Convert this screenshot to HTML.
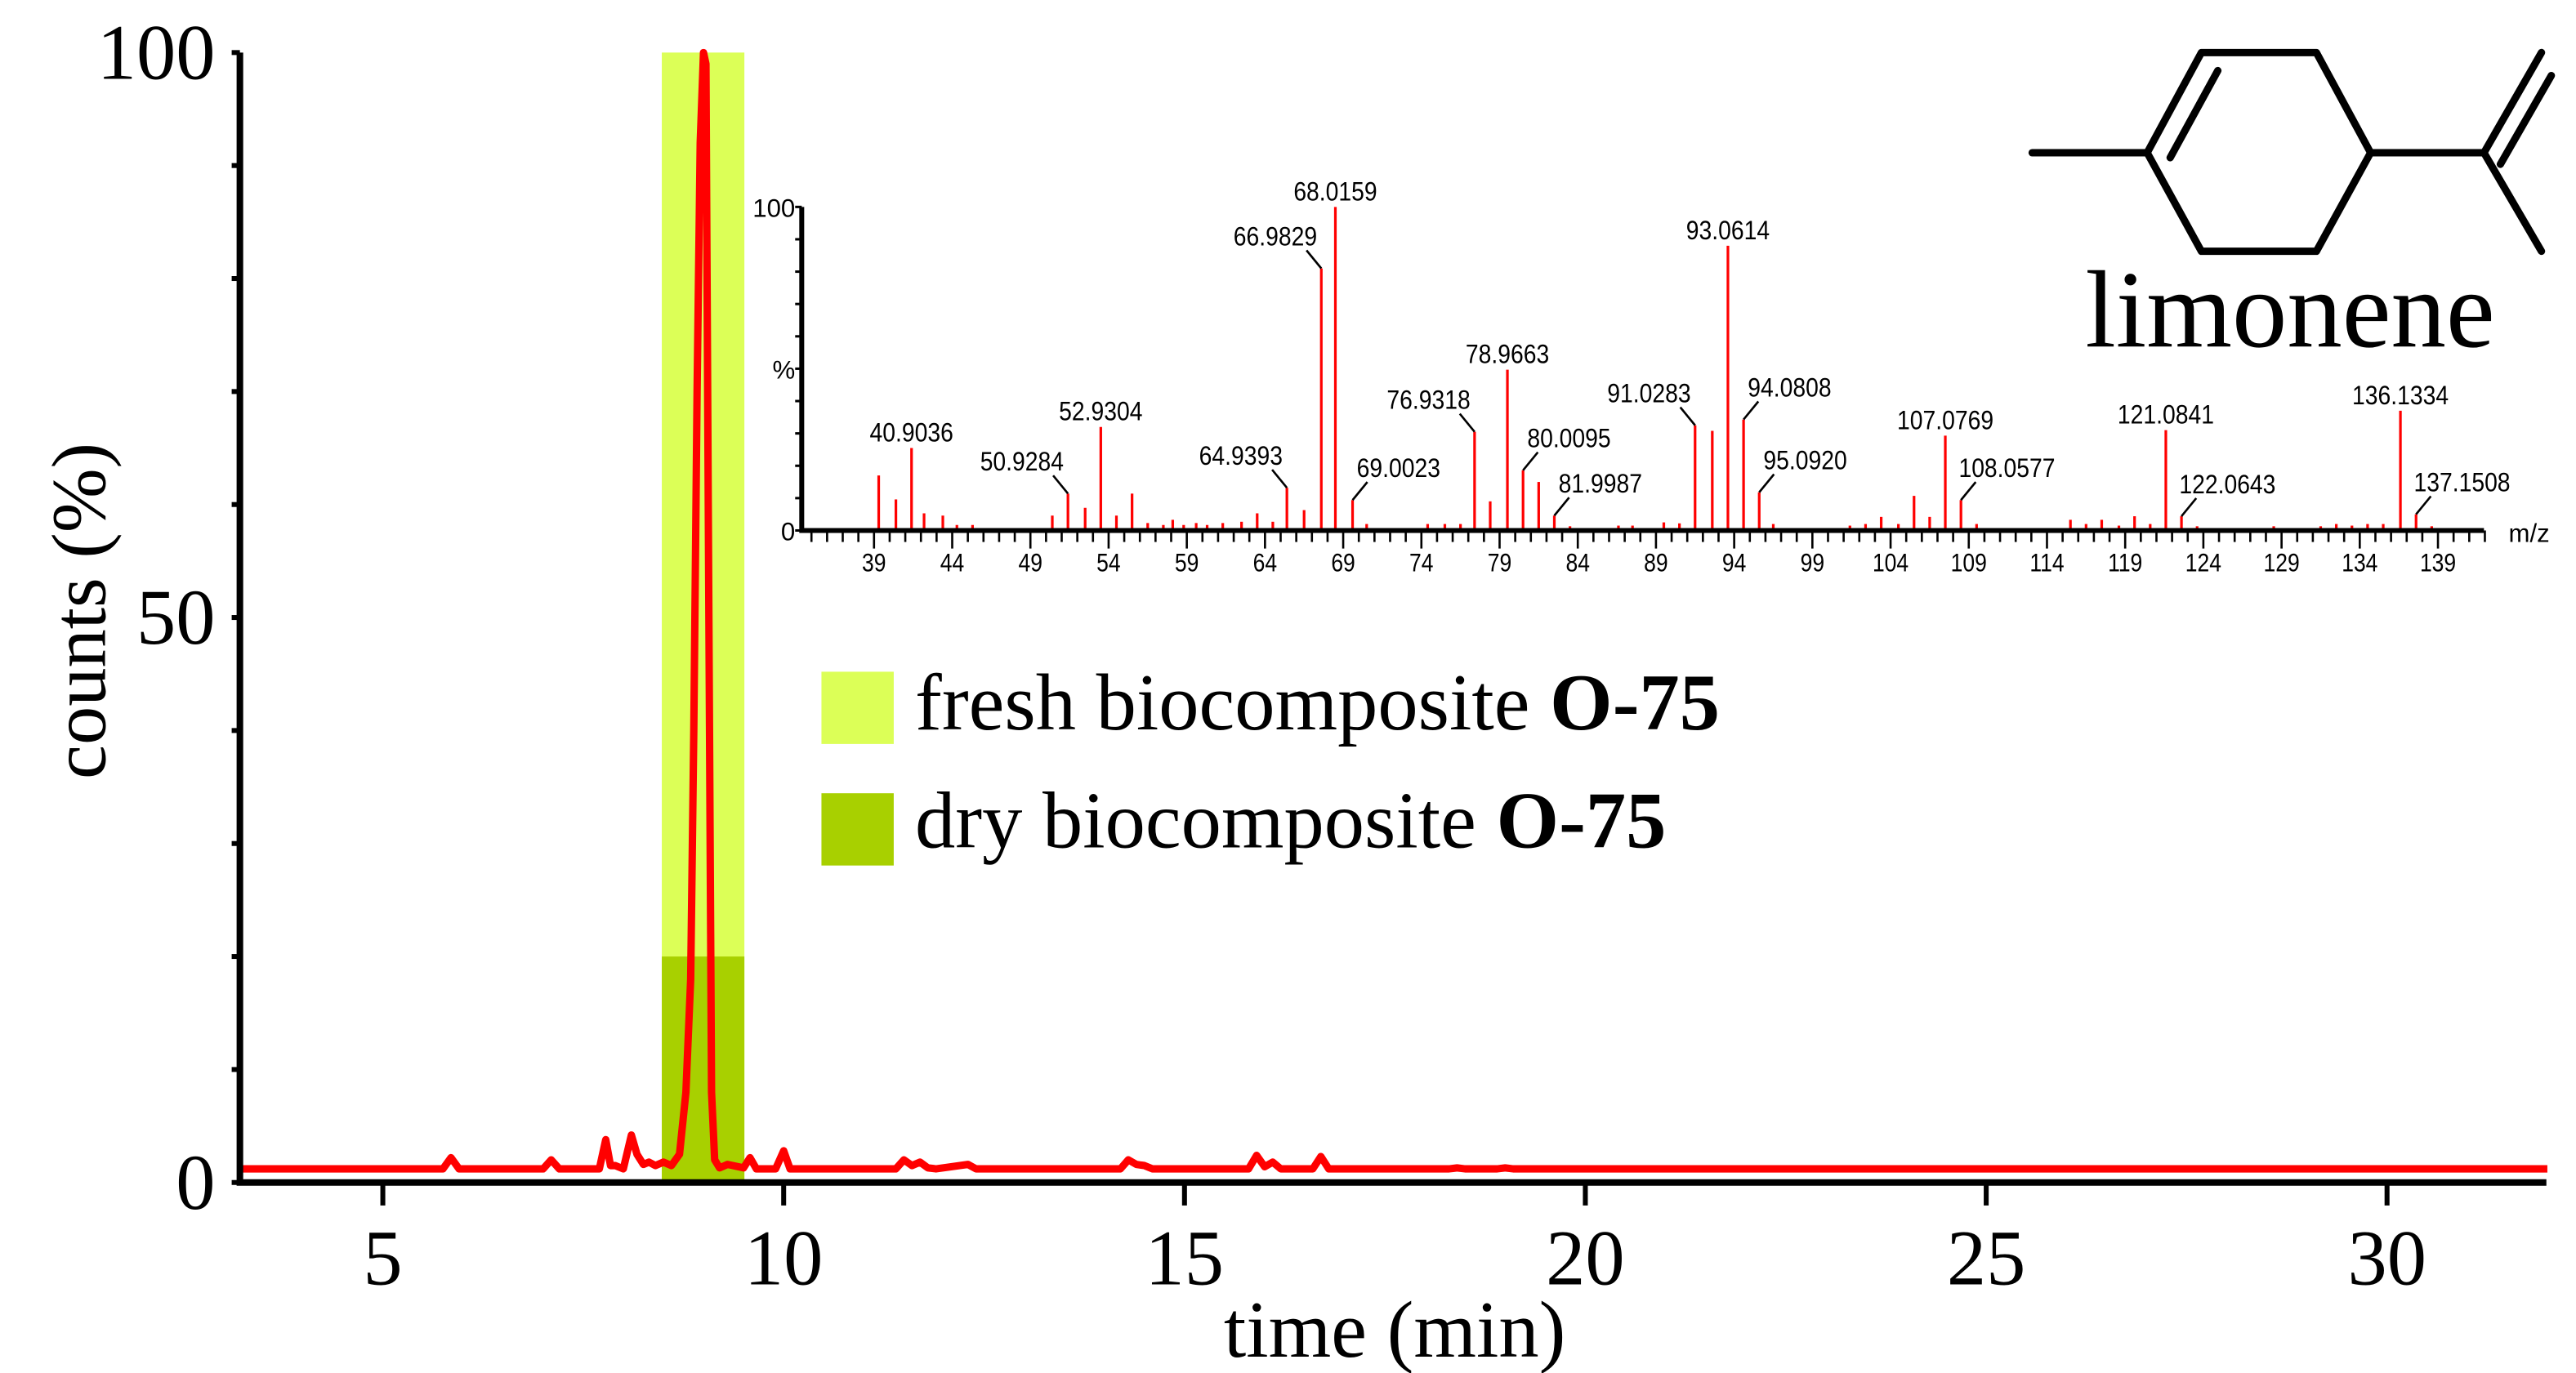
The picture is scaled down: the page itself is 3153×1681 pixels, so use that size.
<!DOCTYPE html>
<html><head><meta charset="utf-8">
<style>
html,body{margin:0;padding:0;background:#fff;}
svg{display:block;}
.serif{font-family:"Liberation Serif",serif;}
.sans{font-family:"Liberation Sans",sans-serif;}
</style></head>
<body>
<svg id="chart" width="3153" height="1681" viewBox="0 0 1568 836" xmlns="http://www.w3.org/2000/svg">
<rect x="0" y="0" width="1568" height="836" fill="#fff"/>
<g id="highlights"></g>
<g id="main"></g>
<g id="inset"></g>
<g id="legend">
  <rect x="500" y="409" width="44" height="44" fill="#dcff57"/>
  <text class="serif" x="557" y="444" font-size="49">fresh biocomposite <tspan font-weight="bold">O-75</tspan></text>
  <rect x="500" y="483" width="44" height="44" fill="#a8d000"/>
  <text class="serif" x="557" y="516" font-size="49">dry biocomposite <tspan font-weight="bold">O-75</tspan></text>
</g>
<g id="molecule" stroke="#000" stroke-width="4.5" fill="none" stroke-linecap="round" stroke-linejoin="round">
  <path d="M1307,93 L1340,32 L1410,32 L1443,93 L1410,153 L1340,153 Z"/>
  <path d="M1237,93 L1307,93"/>
  <path d="M1321,96 L1350,43"/>
  <path d="M1443,93 L1512,93 L1547,32"/>
  <path d="M1512,93 L1547,153"/>
  <path d="M1522,100 L1553,46"/>
</g>
<text class="serif" x="1394" y="211" font-size="67" text-anchor="middle">limonene</text>
</svg>
<script>
// ---------- Main chromatogram data ----------
const chromTimes = [3.25,5.75,5.85,5.95,7.0,7.1,7.2,7.7,7.78,7.84,7.9,8.0,8.1,8.17,8.25,8.32,8.4,8.5,8.6,8.7,8.78,8.84,8.88,8.92,8.96,9.0,9.03,9.06,9.1,9.14,9.2,9.3,9.5,9.58,9.66,9.9,10.0,10.08,11.4,11.5,11.6,11.7,11.8,11.9,12.3,12.4,14.2,14.3,14.4,14.5,14.6,15.8,15.9,16.0,16.1,16.2,16.6,16.7,16.8,18.3,18.4,18.5,18.9,19.0,19.1,32.0];
const chromValues = [1.2,1.2,2.2,1.2,1.2,2.0,1.2,1.2,3.8,1.5,1.5,1.2,4.2,2.5,1.6,1.8,1.5,1.8,1.5,2.5,8,18,40,70,92,100,99,60,8,2.0,1.3,1.6,1.3,2.2,1.2,1.2,2.8,1.2,1.2,2.0,1.5,1.8,1.3,1.2,1.6,1.2,1.2,2.0,1.6,1.5,1.2,1.2,2.4,1.4,1.8,1.2,1.2,2.3,1.2,1.2,1.3,1.2,1.2,1.3,1.2,1.2];
const xTicks = [5,10,15,20,25,30];
const yTickLabels = [0,50,100];
const yMinorTicks = [0,10,20,30,40,50,60,70,80,90,100];
const freshBand = [8.48,9.51,100];
const dryBand = [8.48,9.51,20];

// ---------- Inset spectrum data ----------
const msMz = [39.3,40.4,41.4,42.2,43.4,44.3,45.3,50.4,51.4,52.5,53.5,54.5,55.5,56.5,57.5,58.1,58.8,59.6,60.3,61.3,62.5,63.5,64.5,65.4,66.5,67.6,68.5,69.6,70.5,74.4,75.5,76.5,77.4,78.4,79.5,80.5,81.5,82.5,83.5,86.6,87.5,89.5,90.5,91.5,92.6,93.6,94.6,95.6,96.5,101.4,102.4,103.4,104.5,105.5,106.5,107.5,108.5,109.5,115.5,116.5,117.5,118.6,119.6,120.6,121.6,122.6,123.6,128.5,131.5,132.5,133.5,134.5,135.5,136.6,137.6,138.6];
const msIntensity = [17,9.6,25.5,5.3,4.6,1.7,1.7,4.6,11.4,7,32,4.6,11.4,2.3,1.7,3.3,1.7,2.3,1.7,2.3,2.7,5.3,2.7,13.2,6.3,81,100,9.4,2,2,2,2,30.5,9,49.7,18.6,15,4.6,1.3,1.5,1.5,2.5,2.2,32.5,30.8,88,34.3,11.8,2,1.5,2,4.2,2,10.7,4.2,29.3,9.4,2,3.3,2,3.3,1.5,4.4,2,31,4.4,1.3,1.3,1.3,2,1.5,2,2,37,5,1.3];
const msLabelIndex = [2,8,10,23,25,26,27,32,34,35,37,43,45,46,47,55,56,64,65,73,74];
const msLabelText = ["40.9036","50.9284","52.9304","64.9393","66.9829","68.0159","69.0023","76.9318","78.9663","80.0095","81.9987","91.0283","93.0614","94.0808","95.0920","107.0769","108.0577","121.0841","122.0643","136.1334","137.1508"];
const msLabelSide = [0,-1,0,-1,-1,0,1,-1,0,1,1,-1,0,1,1,0,1,0,1,0,1];
const msTickLabels = [39,44,49,54,59,64,69,74,79,84,89,94,99,104,109,114,119,124,129,134,139];

const NS = "http://www.w3.org/2000/svg";
function mk(tag, attrs, parent){
  const e = document.createElementNS(NS, tag);
  for (const k in attrs) e.setAttribute(k, attrs[k]);
  parent.appendChild(e);
  return e;
}
const X0 = 146, X1 = 1550, YT = 32, YB = 720;
const xs = t => 233 + (t - 5) * 48.8;
const ys = v => YB - v * (YB - YT) / 100;

const hl = document.getElementById('highlights');
let b1 = mk('rect', {x: xs(freshBand[0]), y: ys(freshBand[2]), width: xs(freshBand[1]) - xs(freshBand[0]), height: YB - ys(freshBand[2]), fill: '#dcff57'}, hl);


let b2 = mk('rect', {x: xs(dryBand[0]), y: ys(dryBand[2]), width: xs(dryBand[1]) - xs(dryBand[0]), height: YB - ys(dryBand[2]), fill: '#a8d000'}, hl);



const main = document.getElementById('main');
let pts = chromTimes.map((t, i) => xs(t).toFixed(1) + ',' + ys(chromValues[i]).toFixed(1)).join(' ');
let line = mk('polyline', {points: pts, fill: 'none', stroke: '#ff0000', 'stroke-width': 4.5, 'stroke-linejoin': 'round'}, main);



let ax = mk('path', {d: `M${X0},${YT} L${X0},${YB} L${X1},${YB}`, fill: 'none', stroke: '#000', 'stroke-width': 4}, main);


yMinorTicks.forEach(v => {
  let tk = mk('line', {x1: X0 - 5, x2: X0, y1: ys(v), y2: ys(v), stroke: '#000', 'stroke-width': 3}, main);
  
  
});
yTickLabels.forEach(v => {
  let tl = mk('text', {x: 131, y: ys(v) + 16, 'font-size': 48, 'text-anchor': 'end', class: 'serif'}, main);
  tl.textContent = v;
  
  
});
xTicks.forEach(t => {
  let tk = mk('line', {x1: xs(t), x2: xs(t), y1: YB, y2: YB + 14, stroke: '#000', 'stroke-width': 3}, main);
  
  
  let tl = mk('text', {x: xs(t), y: YB + 62, 'font-size': 48, 'text-anchor': 'middle', class: 'serif'}, main);
  tl.textContent = t;
  
  
});
let xt = mk('text', {x: 849, y: 826, 'font-size': 49, 'text-anchor': 'middle', class: 'serif'}, main);
xt.textContent = 'time (min)';


let yt = mk('text', {x: 0, y: 0, 'font-size': 47, 'text-anchor': 'middle', class: 'serif', transform: 'translate(64,372) rotate(-90)'}, main);
yt.textContent = 'counts (%)';



// inset
const inset = document.getElementById('inset');
const IX0 = 488, IX1 = 1512, IYT = 126, IYB = 323;
const mx = m => 532 + (m - 39) * 9.52;
const my = v => IYB - v * (IYB - IYT) / 100;
for (let m = 35; m <= 142; m++) {
  const major = msTickLabels.includes(m);
  let tk = mk('line', {x1: mx(m), x2: mx(m), y1: IYB, y2: IYB + (major ? 11 : 7), stroke: '#000', 'stroke-width': 1.3}, inset);
  
  
}
msTickLabels.forEach(m => {
  let tl = mk('text', {x: mx(m), y: IYB + 25, 'font-size': 15.5, 'text-anchor': 'middle', class: 'sans', transform: `translate(${mx(m)},0) scale(0.85,1) translate(${-mx(m)},0)`}, inset);
  tl.textContent = m;
  
  
});
for (let v = 0; v <= 100; v += 10) {
  let tk = mk('line', {x1: IX0 - 4, x2: IX0, y1: my(v), y2: my(v), stroke: '#000', 'stroke-width': 1.5}, inset);
  
  
}
[['100',100],['%',50],['0',0]].forEach(p => {
  let tl = mk('text', {x: IX0 - 4, y: my(p[1]) + 6, 'font-size': 15.5, 'text-anchor': 'end', class: 'sans'}, inset);
  tl.textContent = p[0];
  
  
});
msMz.forEach((m, i) => {
  let bar = mk('line', {x1: mx(m), x2: mx(m), y1: IYB, y2: my(msIntensity[i]), stroke: '#ff0000', 'stroke-width': 1.6}, inset);
  
  
});
let iax = mk('path', {d: `M${IX0},${IYT} L${IX0},${IYB} L${IX1},${IYB}`, fill: 'none', stroke: '#000', 'stroke-width': 3}, inset);


let mz = mk('text', {x: 1527, y: IYB + 7, 'font-size': 15.5, class: 'sans'}, inset);
mz.textContent = 'm/z';


msLabelIndex.forEach((idx, j) => {
  const bx = mx(msMz[idx]), by = my(msIntensity[idx]);
  const side = msLabelSide[j];
  let tx = bx, ty = by - 4;
  if (side !== 0) {
    let ld = mk('line', {x1: bx, y1: by, x2: bx + side * 9, y2: by - 11, stroke: '#000', 'stroke-width': 1.3}, inset);
    
    
    tx = bx + side * 28; ty = by - 14;
  }
  let tl = mk('text', {x: tx, y: ty, 'font-size': 16, 'text-anchor': 'middle', class: 'sans', transform: `translate(${tx},0) scale(0.88,1) translate(${-tx},0)`}, inset);
  tl.textContent = msLabelText[j];
  
  
});
</script>
</body></html>
